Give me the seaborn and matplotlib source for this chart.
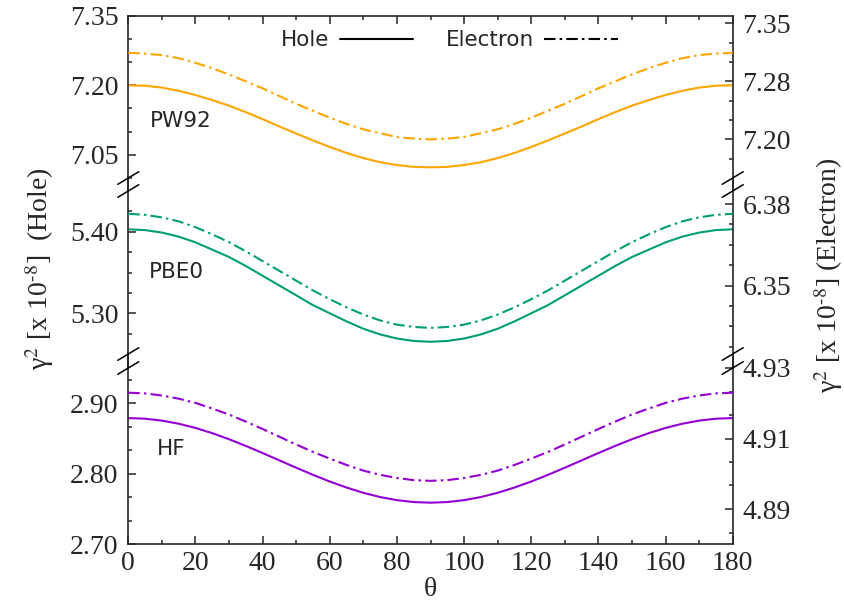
import matplotlib
matplotlib.use("Agg")
import matplotlib.pyplot as plt
from matplotlib.lines import Line2D
from matplotlib.ticker import FixedLocator, FixedFormatter, MultipleLocator
import pandas as pd
import seaborn as sns

# ---------------- data ----------------
theta = [0, 5, 10, 15, 20, 25, 30, 35, 40, 45, 50, 55, 60, 65, 70, 75, 80, 85, 90,
         95, 100, 105, 110, 115, 120, 125, 130, 135, 140, 145, 150, 155, 160, 165,
         170, 175, 180]

pw92_hole = [7.200, 7.199, 7.195, 7.188, 7.179, 7.168, 7.156, 7.142, 7.127, 7.111,
             7.096, 7.081, 7.067, 7.054, 7.043, 7.034, 7.028, 7.024, 7.023,
             7.024, 7.028, 7.034, 7.043, 7.054, 7.067, 7.081, 7.096, 7.111, 7.127,
             7.142, 7.156, 7.168, 7.179, 7.188, 7.195, 7.199, 7.200]
pw92_elec = [7.312, 7.311, 7.309, 7.305, 7.299, 7.292, 7.284, 7.275, 7.266, 7.256,
             7.246, 7.237, 7.228, 7.220, 7.213, 7.208, 7.203, 7.201, 7.200,
             7.201, 7.203, 7.208, 7.213, 7.220, 7.228, 7.237, 7.246, 7.256, 7.266,
             7.275, 7.284, 7.292, 7.299, 7.305, 7.309, 7.311, 7.312]

pbe0_hole = [5.403, 5.402, 5.399, 5.394, 5.387, 5.378, 5.369, 5.358, 5.346, 5.334,
             5.322, 5.310, 5.300, 5.290, 5.281, 5.274, 5.269, 5.266, 5.265,
             5.266, 5.269, 5.274, 5.281, 5.290, 5.300, 5.310, 5.322, 5.334, 5.346,
             5.358, 5.369, 5.378, 5.387, 5.394, 5.399, 5.402, 5.403]
pbe0_elec = [6.3720, 6.3717, 6.3709, 6.3697, 6.3679, 6.3657, 6.3633, 6.3605, 6.3575,
             6.3545, 6.3515, 6.3485, 6.3458, 6.3433, 6.3411, 6.3393, 6.3380, 6.3373,
             6.3370,
             6.3373, 6.3380, 6.3393, 6.3411, 6.3433, 6.3458, 6.3485, 6.3515, 6.3545,
             6.3575, 6.3605, 6.3633, 6.3657, 6.3679, 6.3697, 6.3709, 6.3717, 6.3720]

hf_hole = [2.8790, 2.8781, 2.8754, 2.8710, 2.8650, 2.8576, 2.8490, 2.8395, 2.8294,
           2.8190, 2.8086, 2.7985, 2.7890, 2.7805, 2.7730, 2.7670, 2.7626, 2.7599,
           2.7590,
           2.7599, 2.7626, 2.7670, 2.7730, 2.7805, 2.7890, 2.7985, 2.8086, 2.8190,
           2.8294, 2.8395, 2.8490, 2.8576, 2.8650, 2.8710, 2.8754, 2.8781, 2.8790]
hf_elec = [4.9230, 4.9228, 4.9222, 4.9213, 4.9201, 4.9185, 4.9168, 4.9148, 4.9127,
           4.9105, 4.9083, 4.9062, 4.9043, 4.9025, 4.9009, 4.8997, 4.8988, 4.8982,
           4.8980,
           4.8982, 4.8988, 4.8997, 4.9009, 4.9025, 4.9043, 4.9062, 4.9083, 4.9105,
           4.9127, 4.9148, 4.9168, 4.9185, 4.9201, 4.9213, 4.9222, 4.9228, 4.9230]

methods = ["PW92", "PBE0", "HF"]
colors = ["#ffa500", "#009e73", "#9400d3"]

# axis ranges and ticks (left = Hole, right = Electron)
hole_ylims = [(7.00, 7.35), (5.25, 5.45), (2.70, 2.95)]
elec_ylims = [(7.15, 7.36), (6.329, 6.379), (4.88, 4.93)]
hole_ticks = [[7.05, 7.20, 7.35], [5.30, 5.40], [2.70, 2.80, 2.90]]
hole_ticklabels = [["7.05", "7.20", "7.35"], ["5.30", "5.40"], ["2.70", "2.80", "2.90"]]
hole_minor = [[7.00, 7.10, 7.15, 7.25, 7.30],
              [5.275, 5.325, 5.35, 5.375, 5.425],
              [2.7333, 2.7667, 2.8333, 2.8667, 2.9333]]
elec_ticks = [[7.20, 7.275, 7.35], [6.35, 6.375], [4.89, 4.91, 4.93]]
elec_ticklabels = [["7.20", "7.28", "7.35"], ["6.35", "6.38"], ["4.89", "4.91", "4.93"]]
elec_minor = [[7.175, 7.225, 7.25, 7.30, 7.325],
              [6.33125, 6.3375, 6.34375, 6.35625, 6.3625, 6.36875],
              [4.8833, 4.8967, 4.9033, 4.9167, 4.9233]]
x_ticks = [0, 20, 40, 60, 80, 100, 120, 140, 160, 180]

hole_series = [pw92_hole, pbe0_hole, hf_hole]
elec_series = [pw92_elec, pbe0_elec, hf_elec]

# ---------------- style ----------------
sns.set_style("ticks")
plt.rcParams.update({
    "font.family": ["Liberation Serif", "DejaVu Serif"],
    "mathtext.fontset": "stix",
    "axes.linewidth": 1.2,
    "xtick.major.width": 1.1, "ytick.major.width": 1.1,
    "xtick.minor.width": 1.1, "ytick.minor.width": 1.1,
    "xtick.major.size": 5.8, "ytick.major.size": 5.8,
    "xtick.minor.size": 3.2, "ytick.minor.size": 3.2,
})

W, H = 844, 605
fig = plt.figure(figsize=(W / 100, H / 100), dpi=100)
XL, XR = 128.3, 732.7
panels_px = [(15.7, 178.0), (191.0, 354.0), (368.0, 544.3)]
label_pos = [(0.036, 0.35), (0.034, 0.50), (0.047, 0.54)]
DASH = (0, (5.5, 2.0, 1.2, 2.0))
TICK_FS = 20

axes = []
for i, (ytop, ybot) in enumerate(panels_px):
    ax = fig.add_axes([XL / W, 1 - ybot / H, (XR - XL) / W, (ybot - ytop) / H])
    df_h = pd.DataFrame({"theta": theta, "val": hole_series[i]})
    df_e = pd.DataFrame({"theta": theta, "val": elec_series[i]})
    sns.lineplot(data=df_h, x="theta", y="val", ax=ax, color=colors[i], lw=1.5,
                 legend=False)
    ax2 = ax.twinx()
    sns.lineplot(data=df_e, x="theta", y="val", ax=ax2, color=colors[i], lw=1.5,
                 linestyle=DASH, legend=False)

    ax.set_xlim(0, 180)
    ax.set_ylim(*hole_ylims[i])
    ax2.set_ylim(*elec_ylims[i])
    for a in (ax, ax2):
        a.set_xlabel("")
        a.set_ylabel("")

    ax.yaxis.set_major_locator(FixedLocator(hole_ticks[i]))
    ax.yaxis.set_major_formatter(FixedFormatter(hole_ticklabels[i]))
    ax.yaxis.set_minor_locator(FixedLocator(hole_minor[i]))
    ax2.yaxis.set_major_locator(FixedLocator(elec_ticks[i]))
    ax2.yaxis.set_major_formatter(FixedFormatter(elec_ticklabels[i]))
    ax2.yaxis.set_minor_locator(FixedLocator(elec_minor[i]))

    ax.xaxis.set_major_locator(FixedLocator(x_ticks))
    ax.xaxis.set_minor_locator(MultipleLocator(10))

    ax.tick_params(axis="y", which="both", direction="in", left=True, right=False,
                   labelsize=TICK_FS, pad=7)
    ax2.tick_params(axis="y", which="both", direction="in", right=True, left=False,
                    labelright=True, labelleft=False, labelsize=TICK_FS, pad=7)

    if i == 0:
        ax.tick_params(axis="x", which="both", direction="in", top=True, bottom=False,
                       labelbottom=False, labeltop=False)
        ax.spines["bottom"].set_visible(False)
    elif i == 1:
        ax.tick_params(axis="x", which="both", top=False, bottom=False,
                       labelbottom=False, labeltop=False)
        ax.spines["bottom"].set_visible(False)
        ax.spines["top"].set_visible(False)
    else:
        ax.tick_params(axis="x", which="both", direction="in", top=False, bottom=True,
                       labelbottom=True, labelsize=TICK_FS, pad=5)
        ax.spines["top"].set_visible(False)
    for s in ax2.spines.values():
        s.set_visible(False)

    ax.text(label_pos[i][0], label_pos[i][1], methods[i], transform=ax.transAxes,
            ha="left", va="center", fontsize=15.5, family="DejaVu Sans")
    axes.append(ax)

# broken-axis joins and slashes
for (y1, y2) in [(178.0, 191.0), (354.0, 368.0)]:
    for x in (XL, XR):
        fig.add_artist(Line2D([x / W, x / W], [1 - y1 / H, 1 - y2 / H],
                              transform=fig.transFigure, color="black", lw=1.2))
        for y in (y1, y2):
            fig.add_artist(Line2D([(x - 10.5) / W, (x + 10.5) / W],
                                  [1 - (y + 6.3) / H, 1 - (y - 6.3) / H],
                                  transform=fig.transFigure, color="black", lw=1.1))

# legend
handles = [Line2D([], [], color="black", lw=1.5),
           Line2D([], [], color="black", lw=1.5, linestyle=DASH)]
axes[0].legend(handles, ["Hole", "Electron"], ncol=2, markerfirst=False, frameon=False,
               loc="center", bbox_to_anchor=(0.531, 0.85),
               prop={"family": "DejaVu Sans", "size": 15.5},
               handlelength=3.4, handletextpad=0.5, columnspacing=1.5)

# axis titles
fig.text(430 / W, 1 - 590 / H, "θ", ha="center", va="center", fontsize=20)
fig.text(40 / W, 1 - 269 / H, r"γ$^2$ [x 10$^{\text{-}8}$]  (Hole)", rotation=90,
         ha="center", va="center", fontsize=20)
fig.text(829 / W, 1 - 275 / H, r"γ$^2$ [x 10$^{\text{-}8}$] (Electron)", rotation=90,
         ha="center", va="center", fontsize=20)

fig.savefig("out.png", dpi=100)
